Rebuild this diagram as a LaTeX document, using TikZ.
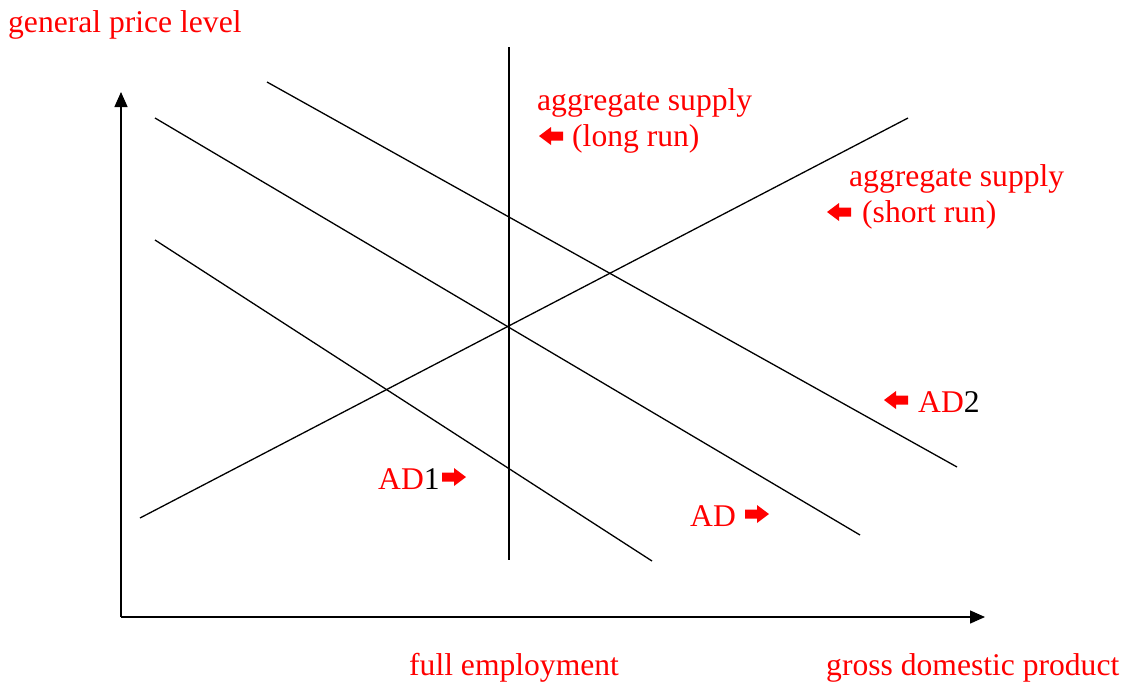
\documentclass[tikz,border=0pt]{standalone}
\usepackage{fontspec}
\setmainfont{Liberation Serif}
\usetikzlibrary{arrows.meta}
\begin{document}
\begin{tikzpicture}[x=1pt,y=-1pt,
  lbl/.style={anchor=base west,inner sep=0pt,text=red,font=\fontsize{31.6}{38}\selectfont},
  curve/.style={line width=1.3pt,black},
  axis/.style={line width=1.4pt,-{Triangle[length=15pt,width=13pt]}},
  blk/.pic={\fill[red] (-12,-4.5) -- (0,-4.5) -- (0,-9) -- (12,0) -- (0,9) -- (0,4.5) -- (-12,4.5) -- cycle;}]
\useasboundingbox (0,0) rectangle (1127,681);
% axes
\coordinate (O) at (121,617);
\coordinate (Ytop) at (121,92);
\coordinate (Xend) at (985,617);
\draw[axis] (O) -- (Ytop);
\draw[axis] (O) -- (Xend);
% curves
\coordinate (lr1) at (509,47);
\coordinate (lr2) at (509,560);
\draw[curve] (lr1) -- (lr2);
\coordinate (sr1) at (140,518);
\coordinate (sr2) at (908,118);
\draw[curve] (sr1) -- (sr2);
\coordinate (ad21) at (267,82);
\coordinate (ad22) at (957,467);
\draw[curve] (ad21) -- (ad22);
\coordinate (ad1) at (155,118);
\coordinate (ad2) at (860,535);
\draw[curve] (ad1) -- (ad2);
\coordinate (ad11) at (155,240);
\coordinate (ad12) at (652,561);
\draw[curve] (ad11) -- (ad12);
% labels
\node[lbl] (gpl) at (8,32) {general price level};
\node[lbl] (lras1) at (537,110) {aggregate supply};
\node[lbl] (lras2) at (572,146) {(long run)};
\pic[xscale=-1] at (551,136) {blk};
\node[lbl] (sras1) at (849,186) {aggregate supply};
\node[lbl] (sras2) at (862,222) {(short run)};
\pic[xscale=-1] at (839,212) {blk};
\node[lbl,text=black] (tad2) at (918,412) {\textcolor{red}{AD}2};
\pic[xscale=-1] at (896,400) {blk};
\node[lbl,text=black] (tad1) at (378,489) {\textcolor{red}{AD}1};
\pic at (454,477) {blk};
\node[lbl] (tad) at (690,526) {AD};
\pic at (757,514) {blk};
\node[lbl] (fe) at (409,675) {full employment};
\node[lbl] (gdp) at (826,675) {gross domestic product};
\end{tikzpicture}
\end{document}
